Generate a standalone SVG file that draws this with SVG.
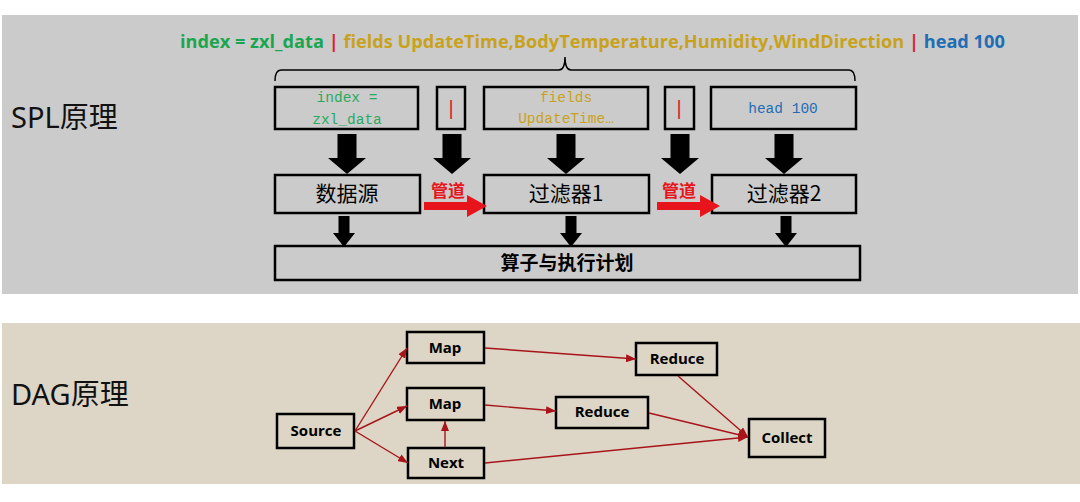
<svg xmlns="http://www.w3.org/2000/svg" width="1080" height="502" viewBox="0 0 1080 502">
<style>
.box{fill:none;stroke:#000;stroke-width:2.5}
.mono{font-family:"Liberation Mono","DejaVu Sans Mono",monospace;font-size:14.5px;text-anchor:middle}
.pipe{font-family:"Liberation Sans",sans-serif;font-size:20px;text-anchor:middle;fill:#e0202a}
.cjk{font-family:"Noto Sans CJK SC",sans-serif;text-anchor:middle}
.lbl{font-family:"Open Sans","Noto Sans",sans-serif;font-weight:bold;font-size:15px;text-anchor:middle}
.side{font-family:"Noto Sans","Noto Sans CJK SC",sans-serif;font-size:29px;fill:#111}
.big{fill:#000}
.red{fill:#e8141b}
.edge{stroke:#a8141a;stroke-width:1.4;fill:none;marker-end:url(#ah)}
</style>
<defs>
<marker id="ah" viewBox="0 0 10 8" refX="10" refY="4" markerWidth="10" markerHeight="8" markerUnits="userSpaceOnUse" orient="auto">
<path d="M0,0 L10,4 L0,8 Z" fill="#a8141a"/>
</marker>
<path id="bigdown" d="M-9.5,0 H9.5 V24 H19 L0,40 L-19,24 H-9.5 Z"/>
<path id="smalldown" d="M-5.5,0 H5.5 V17 H11 L0,31 L-11,17 H-5.5 Z"/>
<path id="redright" d="M0,-4 H43 V-11 L63,0 L43,11 V4 H0 Z"/>
</defs>
<rect x="2" y="15" width="1076" height="279" fill="#cbcbcb"/>
<rect x="2" y="323" width="1078" height="161" fill="#ddd5c5"/>
<text class="side" x="11" y="128">SPL原理</text>
<text class="side" x="11" y="405">DAG原理</text>
<text x="180" y="48" font-family="'Open Sans','Noto Sans',sans-serif" font-weight="bold" font-size="18.2px"><tspan fill="#1aa650">index = zxl_data </tspan><tspan fill="#e0202a">| </tspan><tspan fill="#c9a21c">fields UpdateTime,BodyTemperature,Humidity,WindDirection </tspan><tspan fill="#e0202a">| </tspan><tspan fill="#1f6db5">head 100</tspan></text>
<path d="M275,81 Q275,70 281,70 L559,70 Q565,70 565,57 Q565,70 571,70 L849,70 Q855,70 855,81" fill="none" stroke="#000" stroke-width="1.5"/>
<g id="q1"><rect class="box" x="275" y="87" width="143" height="42"/><text class="mono" fill="#2aaa60"><tspan x="347" y="102">index =</tspan><tspan x="347" y="124">zxl_data</tspan></text></g>
<g id="q2"><rect class="box" x="437" y="87" width="28" height="42"/><text class="pipe" x="451" y="115">|</text></g>
<g id="q3"><rect class="box" x="484" y="87" width="164" height="42"/><text class="mono" fill="#c9a21c" font-size="13px"><tspan x="566" y="102">fields</tspan><tspan x="566" y="123">UpdateTime…</tspan></text></g>
<g id="q4"><rect class="box" x="665" y="87" width="29" height="42"/><text class="pipe" x="679" y="115">|</text></g>
<g id="q5"><rect class="box" x="711" y="87" width="145" height="42"/><text class="mono" fill="#1f6db5" x="783" y="113">head 100</text></g>
<g id="s1"><rect class="box" x="275" y="175" width="145" height="38"/><text class="cjk" x="347" y="201" font-size="21px">数据源</text></g>
<g id="s2"><rect class="box" x="484" y="175" width="165" height="38"/><text class="cjk" x="566" y="201" font-size="21px">过滤器1</text></g>
<g id="s3"><rect class="box" x="712" y="175" width="144" height="38"/><text class="cjk" x="784" y="201" font-size="21px">过滤器2</text></g>
<g id="op"><rect class="box" x="275" y="246" width="585" height="34"/><text class="cjk" x="567" y="270" font-size="19px" font-weight="bold">算子与执行计划</text></g>
<g id="spl-connectors">
<use href="#bigdown" class="big" x="347" y="134"/>
<use href="#bigdown" class="big" x="452" y="134"/>
<use href="#bigdown" class="big" x="566" y="134"/>
<use href="#bigdown" class="big" x="680" y="134"/>
<use href="#bigdown" class="big" x="784" y="134"/>
<use href="#redright" class="red" x="424" y="206"/>
<use href="#redright" class="red" x="657" y="206"/>
<text class="cjk" x="448" y="197" font-size="17px" font-weight="bold" fill="#e8141b">管道</text>
<text class="cjk" x="679" y="197" font-size="17px" font-weight="bold" fill="#e8141b">管道</text>
<use href="#smalldown" class="big" x="344" y="216"/>
<use href="#smalldown" class="big" x="571" y="216"/>
<use href="#smalldown" class="big" x="786" y="216"/>
</g>
<g id="source"><rect class="box" x="277" y="414" width="77" height="34"/><text class="lbl" x="316" y="436">Source</text></g>
<g id="map1"><rect class="box" x="407" y="332" width="77" height="31"/><text class="lbl" x="445" y="353">Map</text></g>
<g id="map2"><rect class="box" x="407" y="388" width="77" height="32"/><text class="lbl" x="445" y="409">Map</text></g>
<g id="next"><rect class="box" x="408" y="448" width="76" height="30"/><text class="lbl" x="446" y="468">Next</text></g>
<g id="reduce1"><rect class="box" x="636" y="343" width="81" height="32"/><text class="lbl" x="677" y="364">Reduce</text></g>
<g id="reduce2"><rect class="box" x="556" y="397" width="92" height="31"/><text class="lbl" x="602" y="417">Reduce</text></g>
<g id="collect"><rect class="box" x="749" y="419" width="76" height="38"/><text class="lbl" x="787" y="443">Collect</text></g>
<g id="dag-connectors">
<path class="edge" d="M355,431 L407,348"/>
<path class="edge" d="M355,431 L407,406"/>
<path class="edge" d="M355,431 L408,463"/>
<path class="edge" d="M445,447 L445,421"/>
<path class="edge" d="M485,348 L636,359"/>
<path class="edge" d="M485,405 L556,411"/>
<path class="edge" d="M678,376 L748,437"/>
<path class="edge" d="M649,413 L748,437"/>
<path class="edge" d="M485,463 L748,437"/>
</g>
</svg>
